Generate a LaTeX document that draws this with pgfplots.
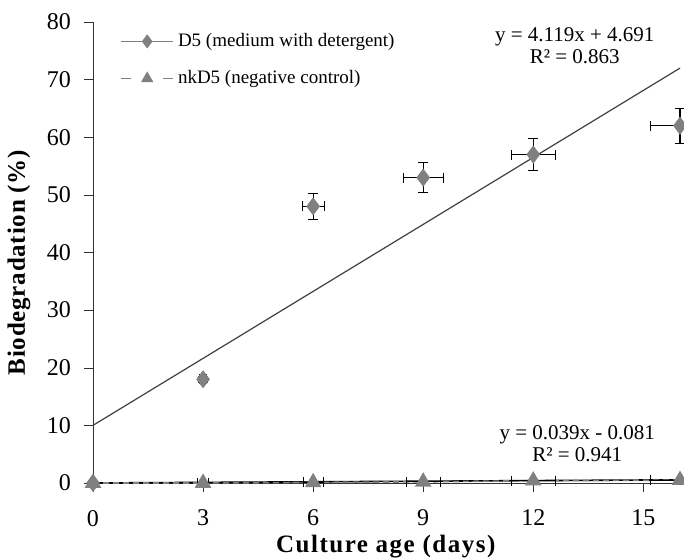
\documentclass[border=0pt]{standalone}
\usepackage{fontspec}
\setmainfont{Liberation Serif}
\usepackage{pgfplots}
\pgfplotsset{compat=1.18}
\definecolor{mk}{HTML}{808080}
\definecolor{trend}{HTML}{404040}

\begin{document}
\begin{tikzpicture}
\begin{axis}[
  name=ax,
  scale only axis, width=293.5pt, height=230.5pt,
  xmin=0, xmax=16, ymin=0, ymax=80,
  xtick={0,3,...,15}, ytick={0,10,...,80},
  axis x line*=bottom, axis y line*=left,
  axis line style={black!80}, tick style={black!80},
  tick align=outside, major tick length=4.5pt,
  /pgf/number format/assume math mode=true,
  tick label style={font=\fontsize{12}{13}\selectfont},
  xticklabel style={yshift=-5.5pt}, yticklabel style={xshift=-3pt},
  xlabel={\textbf{Culture age (days)}}, ylabel={\textbf{Biodegradation (\%)}},
  every axis x label/.style={at={(axis description cs:0.5,0)}, yshift=-32pt, anchor=center,
    font=\fontsize{12.5}{14}\selectfont\addfontfeatures{LetterSpace=6}},
  every axis y label/.style={at={(axis description cs:0,0.479)}, xshift=-37pt, rotate=90, anchor=center,
    font=\fontsize{12.5}{14}\selectfont\addfontfeatures{LetterSpace=3}},
  clip=false,
  legend style={draw=none, fill=none, inner sep=0pt, at={(0.046,0.985)}, anchor=north west,
    font=\fontsize{9.5}{11}\selectfont, row sep=6.5pt},
  legend cell align=left,
]
% nkD5 trend line
\addplot[black, line width=0.8pt, forget plot] coordinates {(0,0)(16,0.55)};
% D5 trend line
\addplot[trend, line width=0.6pt, forget plot] coordinates {(0,10)(16,72)};
% nkD5
\addplot[mk, densely dashed, line width=0.8pt, mark=triangle*, mark size=4pt, forget plot,
  mark options={solid, fill=mk, draw=mk},
  error bars/.cd, x dir=both, x explicit, y dir=both, y explicit,
  error bar style={black, solid, line width=0.5pt},
  error mark options={rotate=90, mark size=2.5pt, black, solid}]
  coordinates {
  (0,0) +- (0,0)
  (3,0) +- (0.15,0)
  (6,0.1) +- (0.27,0)
  (9,0.2) +- (0.46,0)
  (12,0.4) +- (0.6,0)
  (16,0.5) +- (0.8,0)
  };
% D5
\addplot[only marks, mark=diamond*, mark size=4.2pt, mk, forget plot,
  mark options={fill=mk, draw=mk},
  error bars/.cd, x dir=both, x explicit, y dir=both, y explicit,
  error bar style={black, line width=0.6pt},
  error mark options={rotate=90, mark size=2.5pt, black}]
  coordinates {
  (0,0) +- (0,0)
  (3,18) +- (0.1,0.5)
  (6,48) +- (0.3,2.3)
  (9,53) +- (0.55,2.6)
  (12,57) +- (0.6,2.8)
  (16,62) +- (0.8,3)
  };
% legend entries
\addlegendimage{legend image code/.code={
  \draw[mk, line width=0.8pt] (0pt,0pt) -- (26pt,0pt);
  \draw[mk, fill=mk] plot[mark=diamond*, mark size=3.2pt] coordinates {(13pt,0pt)};}}
\addlegendentry{D5 (medium with detergent)}
\addlegendimage{legend image code/.code={
  \draw[mk, line width=0.8pt] (0pt,0pt) -- (5pt,0pt);
  \draw[mk, line width=0.8pt] (21pt,0pt) -- (26pt,0pt);
  \draw[mk, fill=mk] plot[mark=triangle*, mark size=3.2pt] coordinates {(13pt,0pt)};}}
\addlegendentry{nkD5 (negative control)}
\node[align=center, font=\fontsize{10.5}{11}\selectfont] at (axis cs:13.13,75.9) {y = 4.119x + 4.691\\R² = 0.863};
\node[align=center, font=\fontsize{10.5}{11}\selectfont] at (axis cs:13.2,6.8) {y = 0.039x - 0.081\\R² = 0.941};
\end{axis}
\pgfresetboundingbox
\path[use as bounding box] ([shift={(-46.5pt,-38pt)}]ax.south west) rectangle ([shift={(2pt,11pt)}]ax.north east);
\end{tikzpicture}
\end{document}
